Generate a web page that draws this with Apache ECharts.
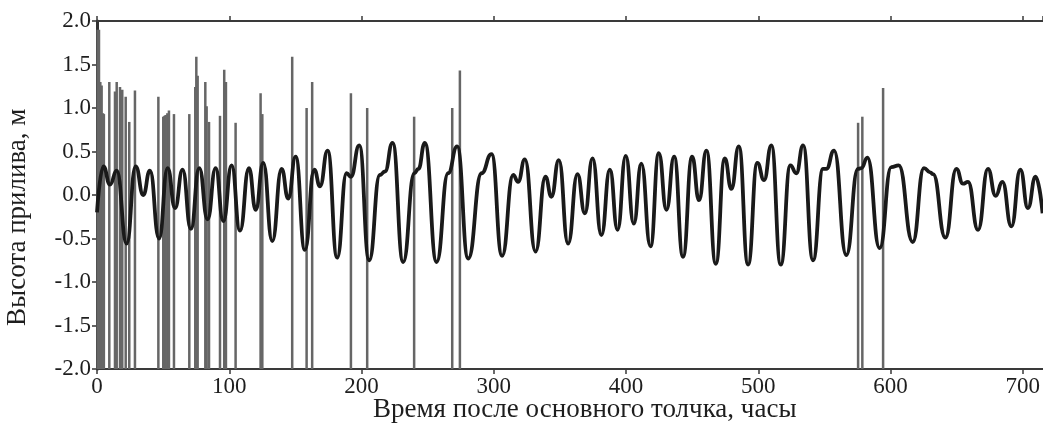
<!DOCTYPE html>
<html>
<head>
<meta charset="utf-8">
<script src="https://cdn.jsdelivr.net/npm/echarts@6/dist/echarts.min.js"></script>
<style>
  html, body { margin: 0; padding: 0; background: #fff; }
  #chart { width: 1043px; height: 424px; }
</style>
</head>
<body>
<div id="chart"></div>
<script>
// Прилив: время (часы) и высота (м), точки экстремумов и плечей
const tideT = [0, 4.8, 9.8, 14.9, 22.4, 29.2, 35, 40, 46.9, 53.4, 59, 64.7, 71, 77.3, 83.6, 89.7, 95.5,
  101.8, 108.1, 114.9, 120, 125.7, 132.5, 139.6, 144.6, 150.2, 157.2, 164.3, 168.6, 174.4, 181.6,
  188.7, 192, 198.3, 205.8, 213.9, 217.7, 223.5, 231.5, 240, 243, 247.9, 256.8, 265.5, 272.3,
  280.7, 290.8, 298.3, 306.3, 314.7, 318.4, 323.5, 331.6, 339.1, 343.6, 349.2, 356.2, 363.3,
  368.9, 374.7, 381.4, 387.8, 393.6, 399.8, 405.9, 411.6, 418.5, 424.8, 430.6, 436.4, 443.1,
  450, 455.2, 460.8, 467.9, 474.7, 479.7, 485.3, 492.3, 499.3, 504.4, 509.9, 517, 524.3, 528.8,
  533.9, 541.4, 549, 551.5, 557.3, 566.6, 575.4, 578, 582.5, 591.8, 600.6, 606.2, 616.8, 625.3,
  630, 632.2, 641.5, 649.8, 654.8, 658.6, 666.2, 673.7, 679.5, 684.6, 691.4, 698.2, 703.9, 709.7, 715];
const tideH = [-0.2, 0.33, 0.12, 0.28, -0.56, 0.33, 0.0, 0.28, -0.5, 0.31, -0.15, 0.29, -0.39, 0.31, -0.28, 0.31, -0.3,
  0.34, -0.41, 0.31, -0.17, 0.37, -0.53, 0.3, -0.04, 0.44, -0.63, 0.29, 0.1, 0.51, -0.72,
  0.25, 0.21, 0.57, -0.75, 0.23, 0.27, 0.6, -0.77, 0.25, 0.3, 0.6, -0.77, 0.25, 0.56,
  -0.73, 0.25, 0.47, -0.7, 0.23, 0.15, 0.41, -0.65, 0.21, -0.02, 0.4, -0.56, 0.24,
  -0.21, 0.42, -0.46, 0.29, -0.4, 0.45, -0.33, 0.36, -0.59, 0.48, -0.17, 0.44, -0.71,
  0.44, -0.06, 0.51, -0.79, 0.42, 0.07, 0.56, -0.8, 0.37, 0.17, 0.57, -0.8, 0.34, 0.25,
  0.57, -0.75, 0.3, 0.3, 0.51, -0.69, 0.3, 0.31, 0.43, -0.61, 0.32, 0.34, -0.54, 0.31,
  0.26, 0.24, -0.49, 0.3, 0.13, 0.15, -0.4, 0.3, -0.01, 0.15, -0.36, 0.29, -0.15, 0.21, -0.21];

// Толчки: время (часы) и высота столбика (м)
const quakeT = [0.5, 1.5, 2.5, 3.5, 4.5, 5.2, 9.3, 13.6, 14.9, 17.4, 19.1, 21.7, 24.4, 28.7,
  46.4, 50.1, 51, 51.9, 53.2, 54.4, 58.2, 69.8, 74.3, 75.1, 76.1, 81.9, 82.9, 84.7, 93, 96.2,
  97.5, 104.8, 123.7, 125, 147.6, 158.5, 162.7, 192, 204.3, 239.8, 268.6, 274.4, 575.5, 578.7, 594.4];
const quakeH = [1.9, 1.9, 1.3, 1.26, 0.94, 0.93, 1.3, 1.19, 1.3, 1.24, 1.21, 1.13, 0.84, 1.2,
  1.13, 0.9, 0.91, 0.92, 0.94, 0.97, 0.93, 0.93, 1.24, 1.59, 1.37, 1.3, 1.02, 0.84, 0.91, 1.44,
  1.3, 0.83, 1.17, 0.93, 1.59, 1.0, 1.3, 1.17, 1.0, 0.9, 1.0, 1.43, 0.83, 0.9, 1.23];

const X_TICKS = [0, 100, 200, 300, 400, 500, 600, 700];
const Y_MIN = -2;

const FONT = "Liberation Serif";
const chart = echarts.init(document.getElementById("chart"));

const xBase = {
  type: "value",
  min: 0,
  max: 715,
  interval: 100,
  splitLine: { show: false },
  axisLine: { onZero: false, lineStyle: { color: "#3a3a3a", width: 2 } },
  axisTick: { show: true, inside: false, length: 5, lineStyle: { color: "#3a3a3a", width: 1.5 } },
};

chart.setOption({
  animation: false,
  backgroundColor: "#ffffff",
  grid: { left: 97, right: 0, top: 21, bottom: 55, containLabel: false },
  xAxis: [
    {
      ...xBase,
      position: "bottom",
      axisLabel: {
        color: "#1e1e1e",
        fontFamily: FONT,
        fontSize: 23,
        margin: 6,
        showMaxLabel: false,
        formatter: (v) => (X_TICKS.includes(v) ? String(v) : ""),
      },
    },
    { ...xBase, position: "top", axisLabel: { show: false } },
  ],
  yAxis: {
    type: "value",
    min: Y_MIN,
    max: 2,
    interval: 0.5,
    splitLine: { show: false },
    axisLine: { show: true, onZero: false, lineStyle: { color: "#333", width: 3 } },
    axisTick: { show: true, length: 5, lineStyle: { color: "#333", width: 1.5 } },
    axisLabel: {
      color: "#1e1e1e",
      fontFamily: FONT,
      fontSize: 23,
      margin: 6,
      formatter: (v) => v.toFixed(1),
    },
  },
  graphic: [
    {
      type: "text",
      left: 373,
      top: 396,
      style: { text: "Время после основного толчка, часы", fill: "#1e1e1e", font: `27px "${FONT}"` },
    },
    {
      type: "text",
      x: 4,
      y: 326,
      rotation: Math.PI / 2,
      style: { text: "Высота прилива, м", fill: "#1e1e1e", font: `27px "${FONT}"` },
    },
  ],
  series: [
    {
      type: "custom",
      data: quakeT.map((t, i) => [t, quakeH[i]]),
      renderItem: (params, api) => {
        const p0 = api.coord([api.value(0), Y_MIN]);
        const p1 = api.coord([api.value(0), api.value(1)]);
        return {
          type: "line",
          shape: { x1: p0[0], y1: p0[1], x2: p1[0], y2: p1[1] },
          style: { stroke: "#666666", lineWidth: 2.5 },
        };
      },
      z: 1,
    },
    {
      type: "line",
      data: tideT.map((t, i) => [t, tideH[i]]),
      smooth: 0.5,
      smoothMonotone: "x",
      symbol: "none",
      lineStyle: { color: "#1a1a1a", width: 3.8 },
      z: 2,
    },
  ],
});
</script>
</body>
</html>
